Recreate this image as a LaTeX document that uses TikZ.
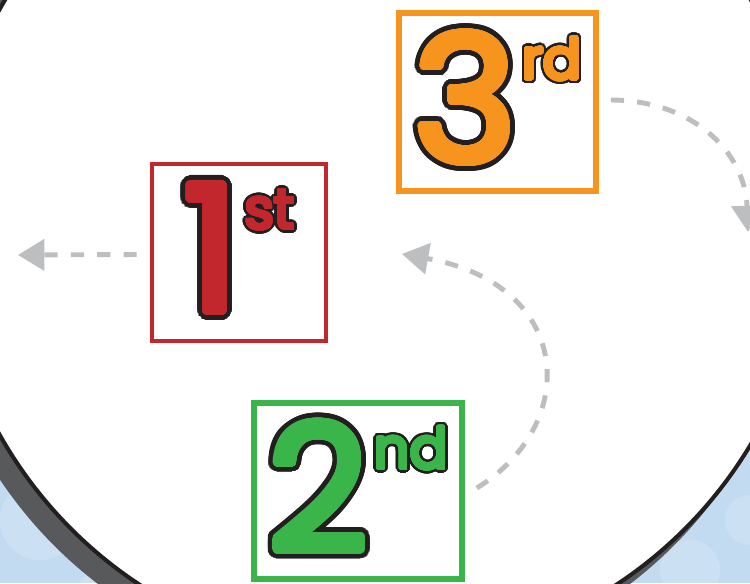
\documentclass[tikz,border=0pt]{standalone}
\usepackage{fontspec}
\setmainfont{Poppins}
\usepackage{contour}
\usetikzlibrary{arrows.meta,calc}
\definecolor{rankred}{HTML}{C1272D}
\definecolor{rankgreen}{HTML}{39B54A}
\definecolor{rankorange}{HTML}{F7941D}
\definecolor{flowgray}{HTML}{BCBEC0}
\definecolor{ringgray}{HTML}{58595B}
\definecolor{ringline}{HTML}{231F20}
\definecolor{skyblue}{HTML}{C3DBF0}
\contournumber{48}
\newcommand{\outlined}[4]{\rlap{\contourlength{#2}\contour{ringline}{\color{ringline}#4}}%
  \rlap{\contourlength{#3}\contour{#1}{\color{#1}#4}}{\color{#1}#4}}
\newcommand{\rankmark}[3]{{\fontsize{100}{100}\selectfont\outlined{#1}{5pt}{2.2pt}{#2}}%
  \hspace{3pt}\raisebox{47pt}{\fontsize{32}{32}\selectfont\outlined{#1}{2.5pt}{1pt}{#3}}}

\begin{document}
\begin{tikzpicture}[x=0.02cm, y=-0.02cm,
  rankbox/.style={draw=#1, line width=3.2pt, fill=white, inner sep=0pt},
  flow/.style={flowgray, line width=2.8pt, dash pattern=on 7.5pt off 7.5pt,
    -{Triangle[length=15pt, width=17.5pt]}}]
\useasboundingbox (0,0) rectangle (750,583);
\clip (0,0) rectangle (750,583);
\fill[skyblue] (0,0) rectangle (750,583);
\foreach \cx/\cy/\r in {40/520/40, 110/600/35, 730/430/30, 690/570/30, 750/520/25} {
    \fill[white, opacity=0.15] (\cx,\cy) circle (\r);
}
\fill[ringgray] (364,236) circle (438);
\filldraw[fill=white, draw=ringline, line width=2.3pt] (378,222) circle (434);

\node[rankbox=rankred, line width=2.6pt, minimum width=3.48cm, minimum height=3.54cm] (first) at (239,252.5) {\rankmark{rankred}{1}{st}};
\node[rankbox=rankgreen, minimum width=4.16cm, minimum height=3.52cm] (second) at (358,491) {\rankmark{rankgreen}{2}{nd}};
\node[rankbox=rankorange, minimum width=3.94cm, minimum height=3.56cm] (third) at (497.5,102) {\rankmark{rankorange}{3}{rd}};

\coordinate (outfirst) at (18,255);
\coordinate (outsecond) at (402,254);
\coordinate (outthird) at (748,232);
\draw[flow] ($(first.west)+(-13,2)$) -- (outfirst);
\draw[flow] ($(second.east)+(12,-3)$) .. controls (580,425) and (575,285) .. (outsecond);
\draw[flow] ($(third.east)+(12,-2)$) .. controls (690,100) and (745,150) .. (outthird);
\end{tikzpicture}
\end{document}
